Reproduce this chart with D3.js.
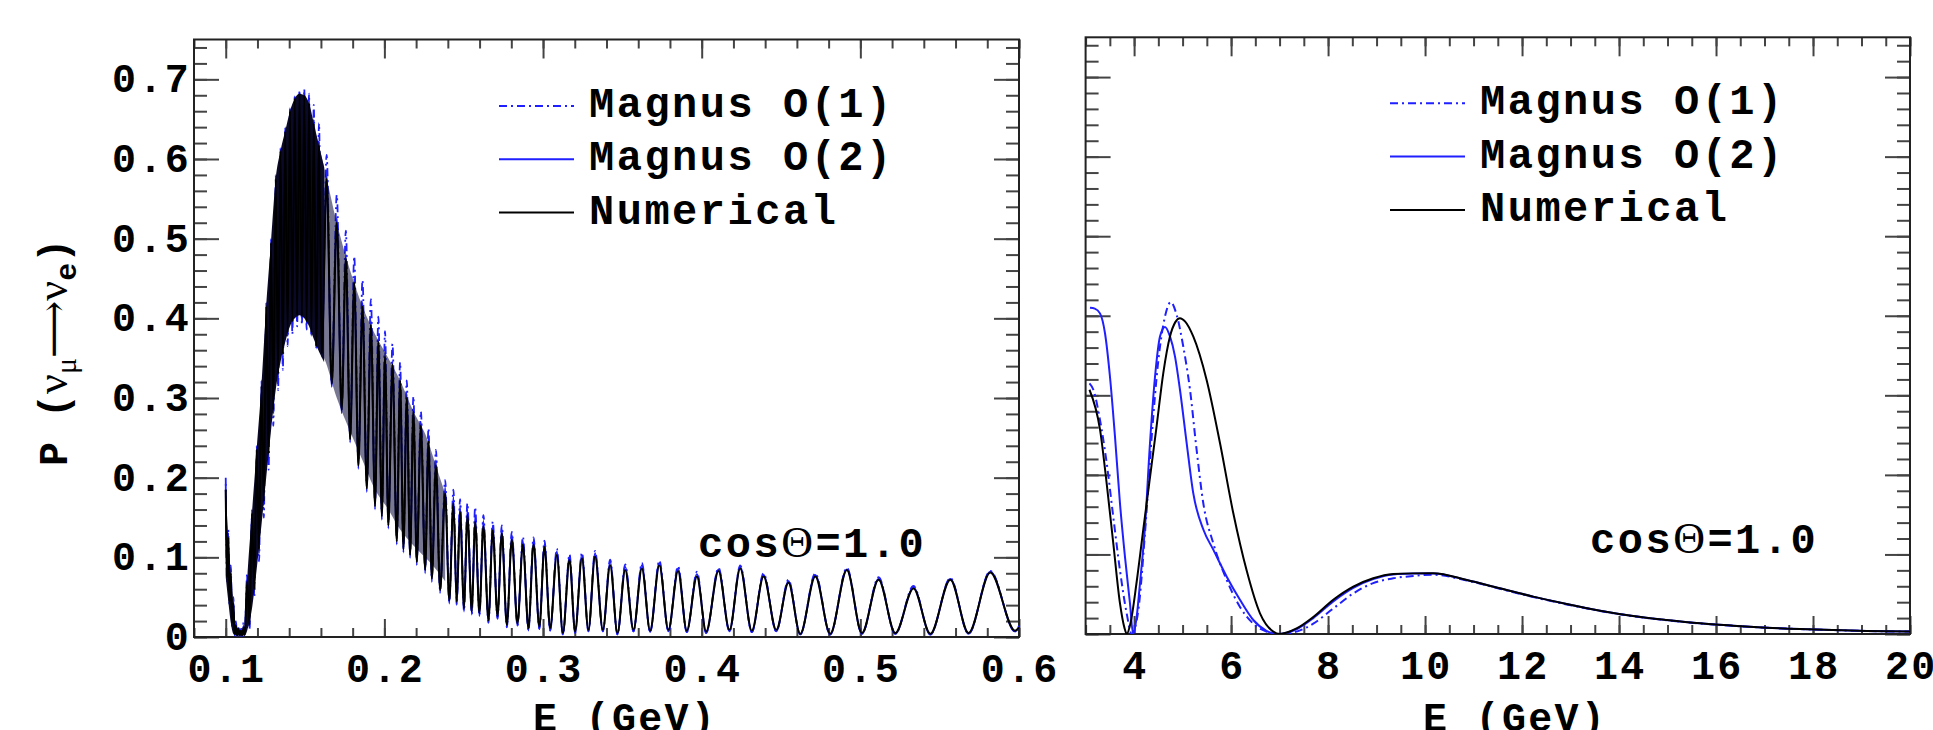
<!DOCTYPE html>
<html>
<head>
<meta charset="utf-8">
<script src="https://cdn.jsdelivr.net/npm/d3@7"></script>
<style>
  body { margin: 0; background: #fff; }
  svg { display: block; }
</style>
</head>
<body>
<svg id="chart" width="1933" height="730"></svg>
<script>
// ---- left panel: extrema of the fast oscillation, E in GeV ----
const leftE = [
  0.1000,0.1008,0.1016,0.1024,0.1032,0.1040,0.1048,0.1056,0.1064,0.1072,0.1080,0.1088,0.1096,0.1104,0.1112,0.1120,
  0.1135,0.1150,0.1165,0.1180,0.1195,0.1210,0.1225,0.1240,0.1255,0.1270,0.1285,0.1300,0.1315,0.1330,0.1345,0.1360,
  0.1375,0.1390,0.1405,0.1420,0.1435,0.1450,0.1465,0.1480,0.1495,0.1510,0.1525,0.1540,0.1555,0.1570,
  0.1588,0.1605,0.1636,0.1668,0.1700,0.1731,0.1757,0.1784,0.1810,0.1836,0.1862,0.1889,0.1915,0.1941,0.1962,0.1984,
  0.2004,0.2025,0.2051,0.2078,0.2099,0.2120,0.2141,0.2162,0.2183,0.2204,0.2230,0.2257,0.2278,0.2299,0.2325,0.2351,
  0.2383,0.2409,0.2435,0.2456,0.2477,0.2502,0.2523,0.2551,0.2572,0.2599,0.2624,0.2656,0.2683,0.2713,0.2740,0.2772,
  0.2803,0.2839,0.2873,0.2908,0.2940,0.2977,0.3009,0.3045,0.3087,0.3125,0.3167,0.3202,0.3245,0.3286,0.3328,0.3377,
  0.3423,0.3469,0.3518,0.3570,0.3623,0.3675,0.3733,0.3790,0.3851,0.3906,0.3970,0.4028,0.4106,0.4175,0.4243,0.4316,
  0.4390,0.4470,0.4547,0.4621,0.4716,0.4810,0.4915,0.5010,0.5115,0.5220,0.5335,0.5441,0.5567,0.5682,0.5819,0.5975,0.6000
];
const leftNum = [
  0.185,0.075,0.125,0.045,0.080,0.018,0.042,0.004,0.014,0.002,0.010,0.002,0.008,0.002,0.012,0.003,
  0.070,0.015,0.155,0.060,0.235,0.110,0.315,0.170,0.415,0.230,0.495,0.285,0.575,0.330,0.610,0.355,
  0.635,0.382,0.660,0.396,0.676,0.404,0.682,0.403,0.680,0.396,0.670,0.382,0.645,0.365,
  0.617,0.356,0.575,0.318,0.520,0.285,0.475,0.248,0.445,0.215,0.415,0.186,0.392,0.164,0.370,0.151,
  0.352,0.140,0.342,0.120,0.322,0.110,0.300,0.103,0.283,0.094,0.265,0.084,0.245,0.073,0.215,0.059,
  0.180,0.046,0.168,0.044,0.157,0.036,0.153,0.032,0.145,0.030,0.139,0.021,0.134,0.026,0.130,0.015,
  0.122,0.017,0.116,0.011,0.116,0.013,0.113,0.011,0.103,0.005,0.097,0.007,0.099,0.009,0.101,0.009,
  0.090,0.005,0.084,0.009,0.086,0.008,0.090,0.009,0.083,0.008,0.076,0.007,0.083,0.009,0.086,0.008,
  0.076,0.009,0.068,0.004,0.076,0.004,0.084,0.005,0.072,0.005,0.061,0.004,0.072,0.005,0.081,0.008,0.012
];
const leftO2 = [
  0.192,0.072,0.130,0.042,0.085,0.015,0.046,0.003,0.016,0.001,0.011,0.001,0.010,0.001,0.014,0.002,
  0.076,0.012,0.160,0.055,0.240,0.105,0.322,0.165,0.420,0.224,0.500,0.280,0.580,0.325,0.614,0.350,
  0.640,0.378,0.664,0.392,0.679,0.400,0.684,0.400,0.683,0.392,0.674,0.378,0.650,0.362,
  0.622,0.352,0.580,0.314,0.526,0.281,0.481,0.244,0.450,0.211,0.420,0.182,0.397,0.160,0.375,0.147,
  0.357,0.136,0.346,0.116,0.326,0.106,0.305,0.099,0.288,0.090,0.270,0.080,0.250,0.069,0.222,0.055,
  0.188,0.042,0.176,0.040,0.165,0.032,0.160,0.028,0.152,0.026,0.146,0.018,0.140,0.023,0.136,0.012,
  0.128,0.014,0.121,0.008,0.121,0.010,0.117,0.008,0.107,0.003,0.101,0.005,0.103,0.007,0.105,0.007,
  0.094,0.003,0.088,0.007,0.090,0.006,0.093,0.007,0.086,0.006,0.079,0.005,0.085,0.007,0.088,0.006,
  0.078,0.007,0.070,0.003,0.078,0.003,0.085,0.004,0.073,0.004,0.062,0.003,0.073,0.004,0.082,0.007,0.012
];
const leftO1 = [
  0.200,0.070,0.135,0.040,0.090,0.012,0.050,0.002,0.020,0.001,0.014,0.001,0.012,0.002,0.018,0.003,
  0.080,0.010,0.150,0.050,0.225,0.095,0.305,0.150,0.400,0.210,0.480,0.265,0.565,0.310,0.605,0.335,
  0.635,0.365,0.662,0.380,0.680,0.390,0.686,0.392,0.688,0.386,0.682,0.378,0.668,0.366,
  0.645,0.356,0.605,0.318,0.555,0.286,0.510,0.250,0.478,0.218,0.448,0.190,0.424,0.168,0.402,0.155,
  0.384,0.143,0.368,0.123,0.345,0.112,0.322,0.104,0.302,0.095,0.283,0.085,0.262,0.074,0.235,0.058,
  0.197,0.044,0.185,0.041,0.173,0.033,0.168,0.029,0.163,0.027,0.153,0.018,0.145,0.023,0.140,0.012,
  0.132,0.014,0.126,0.008,0.125,0.010,0.121,0.008,0.111,0.003,0.104,0.005,0.106,0.007,0.108,0.007,
  0.097,0.003,0.091,0.007,0.093,0.006,0.096,0.007,0.089,0.006,0.082,0.005,0.087,0.007,0.090,0.006,
  0.080,0.007,0.072,0.003,0.080,0.003,0.087,0.004,0.075,0.004,0.064,0.003,0.074,0.004,0.083,0.007,0.014
];
// dark band where the oscillation is too fast to resolve
const bandE   = [0.1000,0.1016,0.1032,0.1048,0.1064,0.1096,0.1120,0.1135,0.1165,0.1195,0.1225,0.1255,0.1285,0.1315,0.1345,0.1375,0.1405,0.1435,0.1465,0.1495,0.1525,0.1555,0.1588,0.1620];
const bandTop = [0.185,0.125,0.080,0.042,0.014,0.008,0.012,0.070,0.155,0.235,0.315,0.415,0.495,0.575,0.610,0.635,0.660,0.676,0.682,0.680,0.670,0.645,0.617,0.590];
const bandBot = [0.075,0.045,0.018,0.004,0.002,0.002,0.002,0.008,0.035,0.085,0.140,0.200,0.258,0.310,0.345,0.370,0.390,0.400,0.404,0.400,0.390,0.374,0.358,0.345];
// half-resolved stretch on the falling side
const band2E   = [0.1570,0.1620,0.1700,0.1784,0.1862,0.1941,0.2025,0.2099,0.2183,0.2257,0.2325,0.2383];
const band2Top = [0.630,0.590,0.520,0.460,0.415,0.380,0.350,0.322,0.283,0.255,0.215,0.180];
const band2Bot = [0.365,0.350,0.300,0.258,0.222,0.185,0.160,0.135,0.115,0.100,0.085,0.070];

// ---- right panel ----
const rightNumE = [3.08,3.3,3.435,3.571,3.709,3.80,3.85,3.92,4.054,4.191,4.328,4.466,4.602,4.74,4.85,4.946,5.05,5.22,5.497,5.771,6.045,6.32,6.596,6.87,7.0,7.35,7.695,8.107,8.52,8.93,9.344,9.757,10.17,10.86,11.54,12.23,12.92,13.61,14.29,14.98,15.67,16.35,17.04,17.73,18.42,19.1,20];
const rightNumP = [0.307,0.256,0.189,0.114,0.0385,0.008,0.0,0.012,0.066,0.132,0.197,0.262,0.328,0.374,0.392,0.397,0.393,0.374,0.319,0.240,0.152,0.080,0.026,0.003,0.0,0.007,0.0214,0.043,0.0595,0.070,0.0754,0.0762,0.0763,0.0679,0.0574,0.047,0.0377,0.0293,0.0226,0.0176,0.0134,0.0105,0.0080,0.0063,0.0050,0.0038,0.003];
const rightO2E = [3.09,3.19,3.297,3.40,3.503,3.606,3.709,3.812,3.915,3.98,4.05,4.122,4.225,4.328,4.431,4.534,4.637,4.74,4.843,4.946,5.084,5.22,5.43,5.633,5.91,6.183,6.458,6.73,6.95,7.35,7.695,8.107,8.52,8.93,9.344,9.757,10.17,10.86,11.54,12.23,12.92,13.61,14.29,14.98,15.67,16.35,17.04,17.73,18.42,19.1,20];
const rightO2P = [0.410,0.409,0.403,0.378,0.323,0.248,0.164,0.097,0.0385,0.0,0.020,0.064,0.135,0.240,0.323,0.374,0.386,0.374,0.349,0.307,0.240,0.177,0.131,0.106,0.072,0.043,0.0176,0.004,0.0,0.006,0.020,0.041,0.058,0.069,0.0748,0.0760,0.0762,0.0679,0.0574,0.047,0.0377,0.0293,0.0226,0.0176,0.0134,0.0105,0.0080,0.0063,0.0050,0.0038,0.003];
const rightO1E = [3.08,3.16,3.297,3.435,3.571,3.709,3.847,3.95,4.087,4.225,4.363,4.5,4.637,4.755,4.878,5.015,5.153,5.29,5.428,5.633,5.91,6.183,6.458,6.73,7.0,7.35,7.695,8.107,8.52,8.93,9.344,9.757,10.17,10.86,11.54,12.23,12.92,13.61,14.29,14.98,15.67,16.35,17.04,17.73,18.42,19.1,20];
const rightO1P = [0.315,0.307,0.269,0.215,0.147,0.080,0.026,0.0,0.030,0.127,0.248,0.344,0.399,0.417,0.401,0.361,0.307,0.231,0.164,0.114,0.068,0.034,0.013,0.003,0.0,0.003,0.013,0.032,0.051,0.064,0.070,0.073,0.0745,0.0672,0.0568,0.0465,0.0372,0.0290,0.0223,0.0173,0.0132,0.0103,0.0079,0.0062,0.0049,0.0037,0.003];

const legendLabels = ['Magnus O(1)', 'Magnus O(2)', 'Numerical'];
const leftXTicks = [0.1, 0.2, 0.3, 0.4, 0.5, 0.6];
const rightXTicks = [4, 6, 8, 10, 12, 14, 16, 18, 20];
const yTicks = [0, 0.1, 0.2, 0.3, 0.4, 0.5, 0.6, 0.7];

const MONO = "'Liberation Mono', 'DejaVu Sans Mono', monospace";
const SERIF = "'Liberation Serif', 'DejaVu Serif', serif";
const BLUE = '#1f1fff';
const styles = [
  { color: BLUE, dash: '8,4,2,4' },
  { color: BLUE, dash: null },
  { color: '#000', dash: null }
];

const svg = d3.select('#chart');

function panel(id, xDom, x0, x1, y0, y1, xTicks, xMinor, showYLabels) {
  const x = d3.scaleLinear().domain(xDom).range([x0, x1]);
  const y = d3.scaleLinear().domain([0, 0.75]).range([y1, y0]);
  const g = svg.append('g').attr('id', id);

  g.append('clipPath').attr('id', id + '-clip')
    .append('rect').attr('x', x0).attr('y', y0).attr('width', x1 - x0).attr('height', y1 - y0);

  const yMinor = d3.range(0, 0.7501, 0.02);
  const xMinorVals = d3.range(xDom[0], xDom[1] + 1e-9, xMinor);

  const tickStyle = s => {
    s.select('.domain').remove();
    s.selectAll('line').attr('stroke', '#444').attr('stroke-width', 2);
  };
  const addAxis = (fn, scale, vals, size, tx, ty) => {
    g.append('g').attr('transform', `translate(${tx},${ty})`)
      .call(fn(scale).tickValues(vals).tickSizeInner(-size).tickSizeOuter(0).tickFormat(''))
      .call(tickStyle);
  };
  addAxis(d3.axisBottom, x, xMinorVals, 9, 0, y1);
  addAxis(d3.axisBottom, x, xTicks, 18, 0, y1);
  addAxis(d3.axisTop, x, xMinorVals, 9, 0, y0);
  addAxis(d3.axisTop, x, xTicks, 19, 0, y0);
  addAxis(d3.axisLeft, y, yMinor, 13, x0, 0);
  addAxis(d3.axisLeft, y, yTicks, 25, x0, 0);
  addAxis(d3.axisRight, y, yMinor, 13, x1, 0);
  addAxis(d3.axisRight, y, yTicks, 25, x1, 0);

  g.append('rect').attr('x', x0).attr('y', y0).attr('width', x1 - x0).attr('height', y1 - y0)
    .attr('fill', 'none').attr('stroke', '#222').attr('stroke-width', 2);

  // tick labels
  g.append('g').selectAll('text').data(xTicks).join('text')
    .attr('x', d => x(d) + 1.2).attr('y', y1 + 45)
    .attr('text-anchor', 'middle')
    .attr('font-family', MONO).attr('font-weight', 'bold').attr('font-size', 40)
    .attr('letter-spacing', 2.3)
    .text(d => String(d));

  if (showYLabels) {
    g.append('g').selectAll('text').data(yTicks).join('text')
      .attr('x', x0 - 3).attr('y', d => y(d) + 13)
      .attr('text-anchor', 'end')
      .attr('font-family', MONO).attr('font-weight', 'bold').attr('font-size', 40)
      .attr('letter-spacing', 2.3)
      .text(d => d === 0 ? '0' : d.toFixed(1));
  }
  return { x, y, g, clip: `url(#${id}-clip)` };
}

function legend(g, lx, ty) {
  legendLabels.forEach((label, i) => {
    const yy = ty + i * 53.3;
    g.append('line').attr('x1', lx).attr('x2', lx + 75).attr('y1', yy).attr('y2', yy)
      .attr('stroke', styles[i].color).attr('stroke-width', 2)
      .attr('stroke-dasharray', styles[i].dash);
    g.append('text').attr('x', lx + 90).attr('y', yy + 11)
      .attr('font-family', MONO).attr('font-weight', 'bold').attr('font-size', 42)
      .attr('letter-spacing', 2.5)
      .text(label);
  });
}

function cosLabel(g, xx, yy) {
  const t = g.append('text').attr('x', xx).attr('y', yy)
    .attr('font-family', MONO).attr('font-weight', 'bold').attr('font-size', 42)
    .attr('letter-spacing', 2.5);
  t.append('tspan').text('cos');
  t.append('tspan').attr('font-family', SERIF).attr('font-weight', 'normal').attr('font-size', 44).text('Θ');
  t.append('tspan').text('=1.0');
}

function xTitle(g, xx) {
  g.append('text').attr('x', xx).attr('y', 731)
    .attr('font-family', MONO).attr('font-weight', 'bold').attr('font-size', 40)
    .attr('letter-spacing', 2.3)
    .text('E (GeV)');
}

// ---------- left panel ----------
const L = panel('left', [0.08, 0.6], 194, 1019, 39.5, 637, leftXTicks, 0.02, true);
const leftPlot = L.g.append('g').attr('clip-path', L.clip);
const leftLine = d3.line().x(d => L.x(d[0])).y(d => L.y(d[1])).curve(d3.curveMonotoneX);
const bandArea = d3.area().x(d => L.x(d[0])).y0(d => L.y(d[2])).y1(d => L.y(d[1])).curve(d3.curveMonotoneX);

[leftO1, leftO2].forEach((vals, i) => {
  leftPlot.append('path')
    .datum(leftE.map((e, j) => [e, vals[j]]))
    .attr('d', leftLine)
    .attr('fill', 'none')
    .attr('stroke', styles[i].color).attr('stroke-width', 1.8)
    .attr('stroke-dasharray', styles[i].dash);
});

leftPlot.append('path')
  .datum(band2E.map((e, j) => [e, band2Top[j], band2Bot[j]]))
  .attr('d', bandArea)
  .attr('fill', '#0a0a3a').attr('fill-opacity', 0.55);

leftPlot.append('path')
  .datum(bandE.map((e, j) => [e, bandTop[j], bandBot[j]]))
  .attr('d', bandArea)
  .attr('fill', '#0a0a28');

leftPlot.append('path')
  .datum(leftE.map((e, j) => [e, leftNum[j]]))
  .attr('d', leftLine)
  .attr('fill', 'none').attr('stroke', '#000').attr('stroke-width', 2);

legend(L.g, 499, 106);
cosLabel(L.g, 698, 557);
xTitle(L.g, 533);

// y title
const yt = svg.append('text').attr('transform', 'translate(67,466) rotate(-90)')
  .attr('font-family', MONO).attr('font-weight', 'bold').attr('font-size', 40);
yt.append('tspan').text('P (');
yt.append('tspan').attr('font-family', SERIF).attr('font-weight', 'normal').attr('font-size', 44).text('ν');
yt.append('tspan').attr('font-family', SERIF).attr('font-weight', 'normal').attr('font-size', 30).attr('dy', 9).text('μ');
yt.append('tspan').attr('font-family', SERIF).attr('font-weight', 'normal').attr('font-size', 40).attr('dy', -9).text('⟶');
yt.append('tspan').attr('font-family', SERIF).attr('font-weight', 'normal').attr('font-size', 44).text('ν');
yt.append('tspan').attr('font-size', 30).attr('dy', 9).text('e');
yt.append('tspan').attr('dy', -9).text(')');

// ---------- right panel ----------
const R = panel('right', [3, 20], 1085.6, 1910, 37.3, 634, rightXTicks, 0.5, false);
const rightPlot = R.g.append('g').attr('clip-path', R.clip);
const rightLine = d3.line().x(d => R.x(d[0])).y(d => R.y(d[1])).curve(d3.curveMonotoneX);
const rightSeries = [
  rightO1E.map((e, j) => [e, rightO1P[j]]),
  rightO2E.map((e, j) => [e, rightO2P[j]]),
  rightNumE.map((e, j) => [e, rightNumP[j]])
];
rightSeries.forEach((pts, i) => {
  rightPlot.append('path').datum(pts).attr('d', rightLine)
    .attr('fill', 'none')
    .attr('stroke', styles[i].color).attr('stroke-width', 2)
    .attr('stroke-dasharray', styles[i].dash);
});

legend(R.g, 1390, 103.3);
cosLabel(R.g, 1590, 553);
xTitle(R.g, 1423);
</script>
</body>
</html>
